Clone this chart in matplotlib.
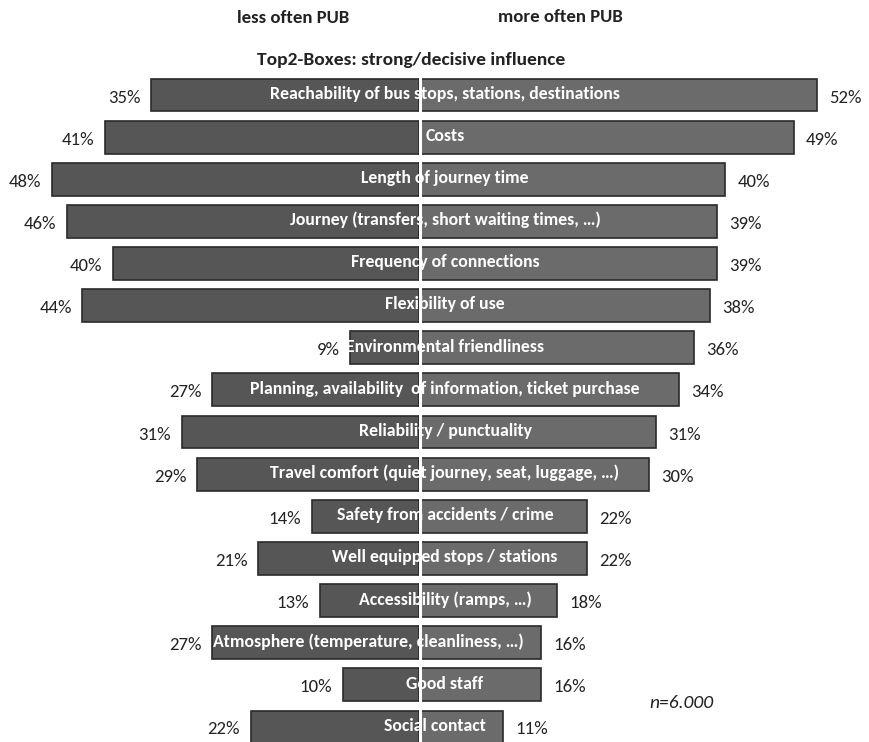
import matplotlib
matplotlib.use("Agg")
import matplotlib.pyplot as plt
from matplotlib import font_manager

categories = [
    "Reachability of bus stops, stations, destinations",
    "Costs",
    "Length of journey time",
    "Journey (transfers, short waiting times, …)",
    "Frequency of connections",
    "Flexibility of use",
    "Environmental friendliness",
    "Planning, availability  of information, ticket purchase",
    "Reliability / punctuality",
    "Travel comfort (quiet journey, seat, luggage, …)",
    "Safety from accidents / crime",
    "Well equipped stops / stations",
    "Accessibility (ramps, …)",
    "Atmosphere (temperature, cleanliness, …)",
    "Good staff",
    "Social contact",
]
less_often = [35, 41, 48, 46, 40, 44, 9, 27, 31, 29, 14, 21, 13, 27, 10, 22]
more_often = [52, 49, 40, 39, 39, 38, 36, 34, 31, 30, 22, 22, 18, 16, 16, 11]

names = sorted({f.name for f in font_manager.fontManager.ttflist})
chosen = None
for cand in ["Carlito", "Liberation Sans Narrow", "Roboto Condensed", "Open Sans Condensed", "Lato"]:
    if cand in names:
        chosen = cand
        break
if chosen is None:
    chosen = "DejaVu Sans"
plt.rcParams["font.family"] = [chosen, "DejaVu Sans"]

fig = plt.figure(figsize=(8.69, 7.42), dpi=100)
ax = fig.add_axes([0, 0, 1, 1])
ax.set_xlim(-419 / 7.65, 450 / 7.65)
ax.set_ylim(15.357, -2.255)
ax.axis("off")

y = list(range(len(categories)))
ax.barh(y, [-v for v in less_often], height=0.78, color="#565656", edgecolor="#2a2a2a", linewidth=1.2)
ax.barh(y, more_often, height=0.78, color="#6b6b6b", edgecolor="#2a2a2a", linewidth=1.2)
ax.axvline(0.15, ymin=0.0, ymax=1.0, color="white", lw=2.2)

fig.canvas.draw()
renderer = fig.canvas.get_renderer()
inv = ax.transData.inverted()

for i, (c, l, m) in enumerate(zip(categories, less_often, more_often)):
    t = ax.text(3.4, i - 0.03, c, ha="center", va="center", color="white",
                fontsize=12.8, fontweight="bold")
    bb = t.get_window_extent(renderer)
    x1, _ = inv.transform((bb.x1, 0))
    limit = m - 2.3
    if x1 > limit:
        t.set_x(3.4 - (x1 - limit))
    ax.text(-l - 1.4, i + 0.06, f"{l}%", ha="right", va="center", color="#222222", fontsize=13.5)
    ax.text(m + 1.6, i + 0.06, f"{m}%", ha="left", va="center", color="#222222", fontsize=13.5)

ax.text(-16.5, -1.82, "less often PUB", ha="center", va="center", fontsize=13.5, fontweight="bold", color="#222222")
ax.text(18.5, -1.86, "more often PUB", ha="center", va="center", fontsize=13.5, fontweight="bold", color="#222222")
ax.text(-1.0, -0.83, "Top2-Boxes: strong/decisive influence", ha="center", va="center",
        fontsize=14, fontweight="bold", color="#222222")
ax.text(34.3, 14.42, "n=6.000", ha="center", va="center", fontsize=14, style="italic", color="#222222")

fig.savefig("out.png", dpi=100)
